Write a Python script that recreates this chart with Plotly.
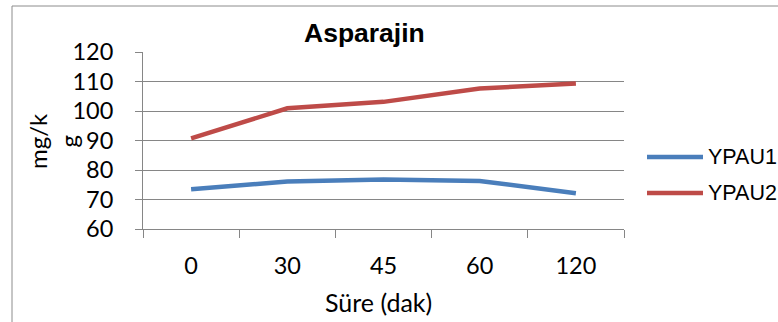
import plotly.graph_objects as go

# Sampling times (minutes) and asparagine content (mg/kg) per series
times = ["0", "30", "45", "60", "120"]
series_names = ["YPAU1", "YPAU2"]
ypau1 = [73.5, 76.1, 76.8, 76.3, 72.1]
ypau2 = [90.7, 100.9, 103.1, 107.6, 109.3]
series_colors = ["#4A7EBB", "#BE4B48"]

y_ticks = [60, 70, 80, 90, 100, 110, 120]

W, H = 778, 322
L, R, T, B = 143, 624, 52, 229   # plot-area edges in pixels


def px_x(v):
    return (v - L) / (R - L)


def px_y(v):
    return (B - v) / (B - T)


fig = go.Figure()
for name, vals, col in zip(series_names, [ypau1, ypau2], series_colors):
    fig.add_trace(go.Scatter(
        x=times, y=vals, name=name, mode="lines",
        line=dict(color=col, width=4.5),
        showlegend=False,
    ))

grid = "#868686"
tick_font = dict(family="Lato", size=23.5, color="#000000")

fig.update_layout(
    width=W, height=H,
    margin=dict(l=L, r=W - R, t=T, b=H - B, pad=0),
    paper_bgcolor="white", plot_bgcolor="white",
    xaxis=dict(
        type="category", categoryorder="array", categoryarray=times,
        showgrid=False, showline=True, linecolor=grid, linewidth=1,
        ticks="outside", tickson="boundaries", ticklen=8, tickcolor=grid,
        tickfont=tick_font, ticklabelstandoff=16,
        range=[-0.5, 4.5], zeroline=False,
    ),
    yaxis=dict(
        range=[60, 120], tickvals=y_ticks, showgrid=True, gridcolor=grid,
        gridwidth=1, showline=True, linecolor=grid, linewidth=1,
        ticks="outside", ticklen=7, tickcolor=grid, tickfont=tick_font,
        ticklabelstandoff=17, zeroline=False,
    ),
    font=dict(family="Liberation Sans", color="#000000"),
)

shapes = [
    # chart frame
    dict(type="rect", xref="paper", yref="paper",
         x0=px_x(12), x1=px_x(900), y0=px_y(400), y1=px_y(6),
         line=dict(color="#8C8C8C", width=1), fillcolor="rgba(0,0,0,0)",
         layer="below"),
]
annotations = [
    dict(text="<b>Asparajin</b>", xref="paper", yref="paper",
         x=px_x(364), y=px_y(33), xanchor="center", yanchor="middle",
         showarrow=False, font=dict(family="Liberation Sans", size=26.5)),
    dict(text="Süre (dak)", xref="paper", yref="paper",
         x=px_x(378), y=px_y(302), xanchor="center", yanchor="middle",
         showarrow=False, font=dict(family="Lato", size=25)),
    dict(text="mg/k<br>g", xref="paper", yref="paper", textangle=-90,
         x=px_x(53), y=px_y(141), xanchor="center", yanchor="middle",
         showarrow=False, font=dict(family="Lato", size=24)),
]

legend_y = [157, 193]
for name, col, ly in zip(series_names, series_colors, legend_y):
    shapes.append(dict(type="line", xref="paper", yref="paper",
                       x0=px_x(647), x1=px_x(703), y0=px_y(ly), y1=px_y(ly),
                       line=dict(color=col, width=4.5)))
    annotations.append(dict(text=name, xref="paper", yref="paper",
                            x=px_x(706), y=px_y(ly), xanchor="left",
                            yanchor="middle", showarrow=False,
                            font=dict(family="Liberation Sans", size=21.5)))

fig.update_layout(shapes=shapes, annotations=annotations)
fig.write_html("out.html")
